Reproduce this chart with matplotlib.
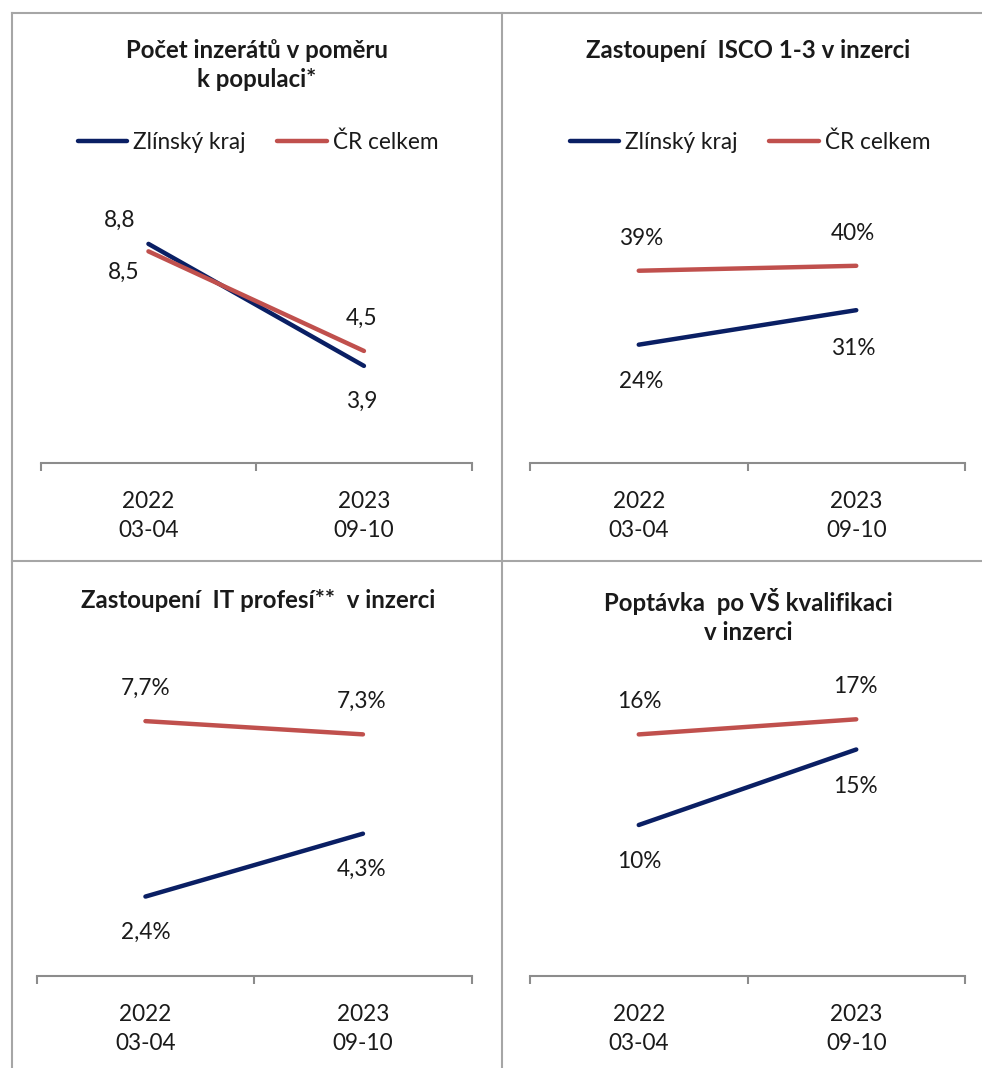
import matplotlib
matplotlib.use("Agg")
import matplotlib.pyplot as plt
from matplotlib.lines import Line2D

plt.rcParams['font.family'] = ['Lato', 'DejaVu Sans']

W, H = 982, 1068
DPI = 100

# data
categories = ["2022\n03-04", "2023\n09-10"]
series_names = ["Zlínský kraj", "ČR celkem"]

inzeraty_zlin = [8.8, 3.9]
inzeraty_cr = [8.5, 4.5]

isco_zlin = [24, 31]
isco_cr = [39, 40]

it_zlin = [2.4, 4.3]
it_cr = [7.7, 7.3]

vs_zlin = [10, 15]
vs_cr = [16, 17]

titles = [
    "Počet inzerátů v poměru\nk populaci*",
    "Zastoupení  ISCO 1-3 v inzerci",
    "Zastoupení  IT profesí**  v inzerci",
    "Poptávka  po VŠ kvalifikaci\nv inzerci",
]

NAVY = "#0a1f64"
RED = "#c0504d"
GRID = "#a6a6a6"
TXT = "#1a1a1a"
FS = 16.3      # labels, ticks, legend
FS_T = 17.3    # titles


def fx(px):
    return px / W


def fy(py):
    return 1 - py / H


def fmt_num(v):
    return f"{v:.1f}".replace(".", ",")


def fmt_pct(v):
    return f"{v:.0f}%"


def fmt_pct1(v):
    return f"{v:.1f}%".replace(".", ",")


fig = plt.figure(figsize=(W / DPI, H / DPI), dpi=DPI)

# panel frame
for (x0, y0, x1, y1) in [(11.5, 13, 11.5, H), (11.5, 13, W, 13),
                         (501.7, 13, 501.7, H), (11.5, 561, W, 561)]:
    fig.add_artist(Line2D([fx(x0), fx(x1)], [fy(y0), fy(y1)],
                          color=GRID, lw=1.5, transform=fig.transFigure))

# panels: plot area in px, axis y px, ymax, px per unit, values, formatter, label offsets
panels = [
    dict(x0=40.7, x1=471.7, yb=463, ymax=10, scale=24.9,
         zlin=inzeraty_zlin, cr=inzeraty_cr, fmt=fmt_num,
         off_z=[(-29, 24), (-2, -35)], off_c=[(-25, -21), (-2, 33)]),
    dict(x0=530, x1=965, yb=463, ymax=50, scale=4.93,
         zlin=isco_zlin, cr=isco_cr, fmt=fmt_pct,
         off_z=[(2, -37), (-3, -38)], off_c=[(2, 32), (-3, 32)]),
    dict(x0=36.7, x1=471.7, yb=976, ymax=9, scale=33.1,
         zlin=it_zlin, cr=it_cr, fmt=fmt_pct1,
         off_z=[(0, -36), (-1, -36)], off_c=[(0, 33), (-1, 33)]),
    dict(x0=530, x1=965, yb=976, ymax=20, scale=15.1,
         zlin=vs_zlin, cr=vs_cr, fmt=fmt_pct,
         off_z=[(1, -37), (-1, -37)], off_c=[(1, 33), (-1, 33)]),
]

x = [0, 1]
axes = []
for p in panels:
    top = p['yb'] - p['ymax'] * p['scale']
    ax = fig.add_axes([fx(p['x0']), fy(p['yb']),
                       fx(p['x1'] - p['x0']), (p['yb'] - top) / H])
    ax.set_xlim(-0.5, 1.5)
    ax.set_ylim(0, p['ymax'])
    for s in ['top', 'left', 'right']:
        ax.spines[s].set_visible(False)
    ax.spines['bottom'].set_color("#8c8c8c")
    ax.spines['bottom'].set_linewidth(1.5)
    ax.set_yticks([])
    ax.set_xticks(x)
    ax.set_xticklabels(categories, fontsize=FS, color=TXT, linespacing=1.5)
    ax.tick_params(axis='x', which='major', length=0, pad=20)
    ax.set_xticks([-0.5, 0.5, 1.5], minor=True)
    ax.tick_params(axis='x', which='minor', length=6, width=1.5,
                   color="#8c8c8c", direction='out')
    ax.patch.set_alpha(0)

    ax.plot(x, p['zlin'], color=NAVY, lw=3.2, solid_capstyle='round',
            label=series_names[0], clip_on=False)
    ax.plot(x, p['cr'], color=RED, lw=3.2, solid_capstyle='round',
            label=series_names[1], clip_on=False)

    for i in range(2):
        dx, dy = p['off_z'][i]
        ax.annotate(p['fmt'](p['zlin'][i]), (x[i], p['zlin'][i]),
                    xytext=(dx * 0.72, dy * 0.72), textcoords='offset points',
                    ha='center', va='center', fontsize=FS, color=TXT,
                    annotation_clip=False)
        dx, dy = p['off_c'][i]
        ax.annotate(p['fmt'](p['cr'][i]), (x[i], p['cr'][i]),
                    xytext=(dx * 0.72, dy * 0.72), textcoords='offset points',
                    ha='center', va='center', fontsize=FS, color=TXT,
                    annotation_clip=False)
    axes.append(ax)

# titles
fig.text(fx(257), fy(65), titles[0], ha='center', va='center', fontsize=FS_T,
         fontweight='bold', color=TXT, linespacing=1.3)
fig.text(fx(748), fy(50), titles[1], ha='center', va='center', fontsize=FS_T,
         fontweight='bold', color=TXT)
fig.text(fx(258), fy(600), titles[2], ha='center', va='center', fontsize=FS_T,
         fontweight='bold', color=TXT)
fig.text(fx(748), fy(616), titles[3], ha='center', va='center', fontsize=FS_T,
         fontweight='bold', color=TXT, linespacing=1.3)

# legends for top panels
for ax, cx in [(axes[0], 258), (axes[1], 750)]:
    ax.legend(loc='center', bbox_to_anchor=(fx(cx), fy(142)),
              bbox_transform=fig.transFigure, ncol=2, frameon=False,
              fontsize=FS, handlelength=2.2, handletextpad=0.25,
              columnspacing=1.4, labelcolor=TXT)

fig.savefig("out.png", dpi=DPI)
